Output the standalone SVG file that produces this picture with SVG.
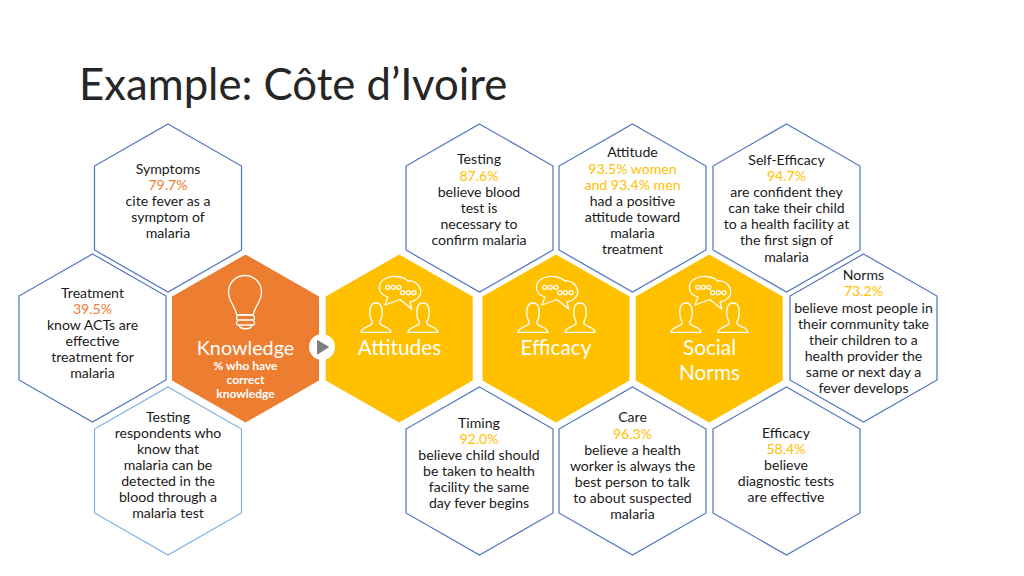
<svg xmlns="http://www.w3.org/2000/svg" xmlns:xlink="http://www.w3.org/1999/xlink" width="1024" height="576" viewBox="0 0 1024 576">
<style>
text{font-family:"Lato","Open Sans",sans-serif;text-anchor:middle}
.t{font-size:14.100px;fill:#1a1a1a}
.o{fill:#ed7d31}.y{fill:#ffc000}
.hb{fill:#fff;stroke:#4f74bb;stroke-width:1.2}
.hl{fill:#fff;stroke:#7fb0de;stroke-width:1.2}
.big{font-size:20.800px;fill:#fff}
.sub{font-size:12px;font-weight:700;fill:#fff}
.ic{fill:none;stroke:#fff;stroke-width:1.300;stroke-linejoin:round}
</style>
<defs>
<polygon id="hex" points="0,-84 73.5,-42 73.5,42 0,84 -73.5,42 -73.5,-42"/>
<path id="person" d="M361,332.300C361,327 369,327 372,324L372,321C370,319 369.800,315 369.800,312C369.800,306 372.500,303 376,303C379.500,303 382.200,306 382.200,312C382.200,315 382,319 380,321L380,324C383,327 391,327 391,332.300Z"/>
<g id="talk" class="ic">
<use href="#person"/><use href="#person" x="47"/>
<path d="M385,305L388,297C381,295 378,290 380,284C382,278 392,275 400,277C404,278 406,279 408,281C414,280 420,285 420.7,291C421,297 416,301 410,302L411.7,309L400,299.500L385,305Z"/>
<circle cx="387.700" cy="287.300" r="2"/><circle cx="393.300" cy="287.300" r="2"/><circle cx="399" cy="287.300" r="2"/>
<circle cx="402.700" cy="292.700" r="2"/><circle cx="408.300" cy="292.700" r="2"/><circle cx="414" cy="292.700" r="2"/>
</g>
</defs>
<text id="title" x="79" y="100" style="text-anchor:start;font-size:43.700px;fill:#262626">Example: Côte d’Ivoire</text>

<g id="symptoms"><use href="#hex" class="hb" x="168" y="208"/><text class="t"><tspan x="168" y="174">Symptoms</tspan><tspan x="168" y="190" class="o">79.7%</tspan><tspan x="168" y="206">cite fever as a</tspan><tspan x="168" y="222">symptom of</tspan><tspan x="168" y="238">malaria</tspan></text></g>
<g id="treatment"><use href="#hex" class="hb" x="92.500" y="338"/><text class="t"><tspan x="92.500" y="298">Treatment</tspan><tspan x="92.500" y="314" class="o">39.5%</tspan><tspan x="92.500" y="330">know ACTs are</tspan><tspan x="92.500" y="346">effective</tspan><tspan x="92.500" y="362">treatment for</tspan><tspan x="92.500" y="378">malaria</tspan></text></g>
<g id="testing-knowledge"><use href="#hex" class="hl" x="168" y="471"/><text class="t"><tspan x="168" y="422">Testing</tspan><tspan x="168" y="438">respondents who</tspan><tspan x="168" y="454">know that</tspan><tspan x="168" y="470">malaria can be</tspan><tspan x="168" y="486">detected in the</tspan><tspan x="168" y="502">blood through a</tspan><tspan x="168" y="518">malaria test</tspan></text></g>
<g id="testing"><use href="#hex" class="hb" x="479.500" y="208"/><text class="t"><tspan x="479" y="164">Testing</tspan><tspan x="479" y="181" class="y">87.6%</tspan><tspan x="479" y="197">believe blood</tspan><tspan x="479" y="213">test is</tspan><tspan x="479" y="229">necessary to</tspan><tspan x="479" y="245">confirm malaria</tspan></text></g>
<g id="attitude"><use href="#hex" class="hb" x="632.500" y="208"/><text class="t"><tspan x="632.500" y="157">Attitude</tspan><tspan x="632.500" y="174" class="y">93.5% women</tspan><tspan x="632.500" y="190" class="y">and 93.4% men</tspan><tspan x="632.500" y="206">had a positive</tspan><tspan x="632.500" y="222">attitude toward</tspan><tspan x="632.500" y="238">malaria</tspan><tspan x="632.500" y="254">treatment</tspan></text></g>
<g id="self-efficacy"><use href="#hex" class="hb" x="786.500" y="208"/><text class="t"><tspan x="786.500" y="165">Self-Efficacy</tspan><tspan x="786.500" y="181" class="y">94.7%</tspan><tspan x="786.500" y="197">are confident they</tspan><tspan x="786.500" y="213">can take their child</tspan><tspan x="786.500" y="229">to a health facility at</tspan><tspan x="786.500" y="245">the first sign of</tspan><tspan x="786.500" y="262">malaria</tspan></text></g>
<g id="norms"><use href="#hex" class="hb" x="863.500" y="338"/><text class="t"><tspan x="863.500" y="280">Norms</tspan><tspan x="863.500" y="296" class="y">73.2%</tspan><tspan x="863.500" y="313">believe most people in</tspan><tspan x="863.500" y="329">their community take</tspan><tspan x="863.500" y="345">their children to a</tspan><tspan x="863.500" y="361">health provider the</tspan><tspan x="863.500" y="377">same or next day a</tspan><tspan x="863.500" y="393">fever develops</tspan></text></g>
<g id="timing"><use href="#hex" class="hb" x="479.500" y="471"/><text class="t"><tspan x="479" y="428">Timing</tspan><tspan x="479" y="444" class="y">92.0%</tspan><tspan x="479" y="460">believe child should</tspan><tspan x="479" y="476">be taken to health</tspan><tspan x="479" y="492">facility the same</tspan><tspan x="479" y="508">day fever begins</tspan></text></g>
<g id="care"><use href="#hex" class="hb" x="632.500" y="471"/><text class="t"><tspan x="632.500" y="422">Care</tspan><tspan x="632.500" y="439" class="y">96.3%</tspan><tspan x="632.500" y="455">believe a health</tspan><tspan x="632.500" y="471">worker is always the</tspan><tspan x="632.500" y="487">best person to talk</tspan><tspan x="632.500" y="503">to about suspected</tspan><tspan x="632.500" y="519">malaria</tspan></text></g>
<g id="efficacy-detail"><use href="#hex" class="hb" x="786.500" y="471"/><text class="t"><tspan x="786" y="438">Efficacy</tspan><tspan x="786" y="454" class="y">58.4%</tspan><tspan x="786" y="470">believe</tspan><tspan x="786" y="486">diagnostic tests</tspan><tspan x="786" y="502">are effective</tspan></text></g>

<g id="knowledge"><use href="#hex" fill="#ed7d31" x="245.500" y="338.500"/>
<g class="ic"><path d="M236.700,315C235,305 228.500,302 228.500,292A16.500,16.500 0 1 1 261.500,292C261.500,302 255,305 253.300,315Z"/><path d="M237.500,315H253M237.500,320H253M237.500,325H253M238,315C236,317 236,320 238,320M253,315C255,317 255,320 253,320M238,320C236,322 236,325 238,325M253,320C255,322 255,325 253,325M239,325C240,330 251,330 252,325"/></g>
<text class="big" style="font-size:19.800px" x="245.500" y="354.500">Knowledge</text>
<text class="sub"><tspan x="245.500" y="369.500">% who have</tspan><tspan x="245.500" y="383.500">correct</tspan><tspan x="245.500" y="397.500">knowledge</tspan></text></g>
<g id="attitudes"><use href="#hex" fill="#ffc000" x="399.200" y="338.500"/><use href="#talk"/><text class="big" x="399.500" y="355">Attitudes</text></g>
<g id="efficacy"><use href="#hex" fill="#ffc000" x="556" y="338.500"/><use href="#talk" x="157"/><text class="big" x="556" y="355">Efficacy</text></g>
<g id="social-norms"><use href="#hex" fill="#ffc000" x="709.200" y="338.500"/><use href="#talk" x="310"/><text class="big"><tspan x="709.500" y="355">Social</tspan><tspan x="709.500" y="380">Norms</tspan></text></g>

<g id="connectors"><circle cx="322" cy="347" r="13" fill="#fff"/><polygon points="317.500,340.500 328.500,347 317.500,354" fill="#7f7f7f" stroke="#7f7f7f" stroke-width="1" stroke-linejoin="round"/></g>
</svg>
